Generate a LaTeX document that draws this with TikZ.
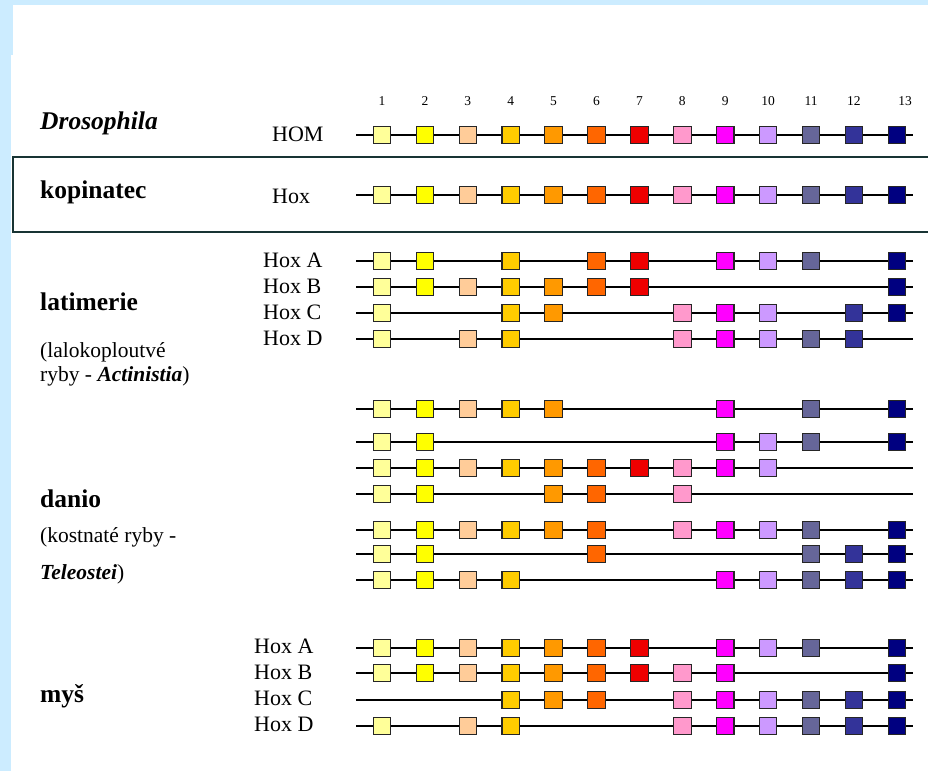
\documentclass[tikz,border=0pt]{standalone}
\usepackage{fontspec}
\setmainfont{Liberation Serif}
\definecolor{frame}{RGB}{204,236,255}
\definecolor{boxline}{RGB}{24,52,52}
\definecolor{hx1}{HTML}{FFFF99}
\definecolor{hx2}{HTML}{FFFF00}
\definecolor{hx3}{HTML}{FFCC99}
\definecolor{hx4}{HTML}{FFCC00}
\definecolor{hx5}{HTML}{FF9900}
\definecolor{hx6}{HTML}{FF6600}
\definecolor{hx7}{HTML}{EE0000}
\definecolor{hx8}{HTML}{FF99CC}
\definecolor{hx9}{HTML}{FF00FF}
\definecolor{hx10}{HTML}{CC99FF}
\definecolor{hx11}{HTML}{666699}
\definecolor{hx12}{HTML}{333399}
\definecolor{hx13}{HTML}{000080}
\tikzset{
  gene/.style={draw=black!85, line width=1.1pt, minimum size=17.5pt, inner sep=0pt},
  chrom/.style={line width=2.6pt},
  spc/.style={anchor=base west, inner sep=0pt, font=\fontsize{25.5}{30}\selectfont\bfseries},
  sub/.style={anchor=base west, inner sep=0pt, font=\fontsize{21.5}{26}\selectfont},
  lab/.style={anchor=base west, inner sep=0pt, font=\fontsize{22}{26}\selectfont},
  num/.style={anchor=base, inner sep=0pt, font=\fontsize{13.5}{16}\selectfont}
}

\begin{document}
\begin{tikzpicture}[x=1pt,y=-1pt]
\useasboundingbox (0,0) rectangle (928,771);
\fill[frame] (0,0) rectangle (928,5);
\fill[frame] (0,0) rectangle (13,55);
\fill[frame] (0,0) rectangle (11,771);
\draw[boxline, line width=1.6pt] (928,157) -| (13,232) -- (928,232);

\foreach \i in {1,...,12}
  \node[num] (n\i) at ({382+42.9*(\i-1)},105) {\i};
\node[num] (n13) at (905,105) {13};

\foreach \r/\y/\g in {hom/135/{1,...,13}, kop/195/{1,...,13},
    laA/261/{1,2,4,6,7,9,10,11,13}, laB/287/{1,2,3,4,5,6,7,13},
    laC/313/{1,4,5,8,9,10,12,13}, laD/339/{1,3,4,8,9,10,11,12},
    daA/409/{1,2,3,4,5,9,11,13}, daB/442/{1,2,9,10,11,13},
    daC/468/{1,2,3,4,5,6,7,8,9,10}, daD/494/{1,2,5,6,8},
    daE/530/{1,2,3,4,5,6,8,9,10,11,13}, daF/554/{1,2,6,11,12,13},
    daG/580/{1,2,3,4,9,10,11,12,13},
    myA/648/{1,2,3,4,5,6,7,9,10,11,13}, myB/673/{1,2,3,4,5,6,7,8,9,13},
    myC/700/{4,5,6,8,9,10,11,12,13}, myD/726/{1,3,4,8,9,10,11,12,13}} {
  \coordinate (\r-s) at (356,\y);
  \coordinate (\r-e) at (913,\y);
  \draw[chrom] (\r-s) -- (\r-e);
  \foreach \i in \g
    \node[gene, fill=hx\i] (\r-\i) at ({382+42.9*(\i-1)},\y) {};
}

\node[spc] (dros) at (40,129.5) {\itshape Drosophila};
\node[lab] (homlab) at (272,141.5) {HOM};
\node[spc] (kopi) at (40,198) {kopinatec};
\node[lab] (kopilab) at (272,203) {Hox};

\node[spc] (lati) at (40,310) {latimerie};
\node[sub] (latisub) at (40,357) {(lalokoploutvé};
\node[sub] (latisubb) at (40,381) {ryby - \textbf{\textit{Actinistia}})};
\node[lab] (laAlab) at (263,267) {Hox A};
\node[lab] (laBlab) at (263,293) {Hox B};
\node[lab] (laClab) at (263,319) {Hox C};
\node[lab] (laDlab) at (263,345) {Hox D};

\node[spc] (dani) at (40,507) {danio};
\node[sub] (danisub) at (40,542) {(kostnaté ryby -};
\node[sub] (danisubb) at (40,579) {\textbf{\textit{Teleostei}})};

\node[spc] (mys) at (40,702) {myš};
\node[lab] (myAlab) at (254,653.5) {Hox A};
\node[lab] (myBlab) at (254,679) {Hox B};
\node[lab] (myClab) at (254,705.5) {Hox C};
\node[lab] (myDlab) at (254,731.5) {Hox D};
\end{tikzpicture}
\end{document}
